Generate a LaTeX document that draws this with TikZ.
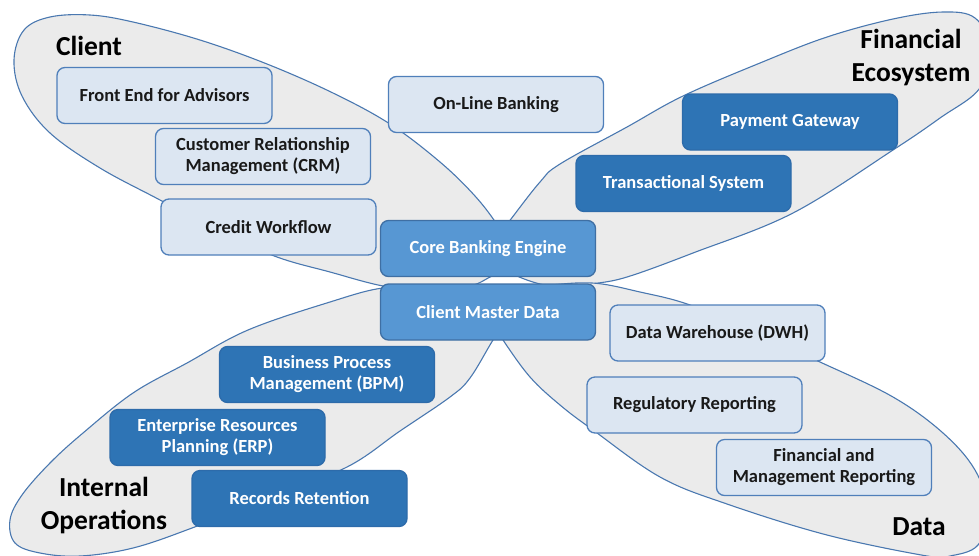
\documentclass[tikz,border=0pt]{standalone}
\usepackage{fontspec}
\setmainfont{Carlito}
\definecolor{petalfill}{HTML}{EBEBEB}
\definecolor{petalline}{HTML}{4A78B0}
\definecolor{lightfill}{HTML}{DCE6F2}
\definecolor{lightline}{HTML}{4F7FBA}
\definecolor{midfill}{HTML}{5797D3}
\definecolor{midline}{HTML}{3F6FA3}
\definecolor{darkfill}{HTML}{2E74B5}
\definecolor{darkline}{HTML}{2D6BAA}
\begin{document}
\begin{tikzpicture}[x=1pt,y=-1pt,
  petal/.style={fill=petalfill, draw=petalline, line width=1.1pt},
  box/.style={rounded corners=8pt, minimum width=215pt, minimum height=56pt,
    align=center, inner sep=2pt, line width=1.3pt,
    font=\fontsize{18.5}{21}\selectfont\bfseries},
  lightbox/.style={box, fill=lightfill, draw=lightline, text=black!90},
  midbox/.style={box, fill=midfill, draw=midline, text=white},
  darkbox/.style={box, fill=darkfill, draw=darkline, text=white},
  title/.style={font=\fontsize{27.5}{33}\selectfont\bfseries, align=center, text=black}]

\useasboundingbox (0,0) rectangle (979,555);
\clip (0,0) rectangle (979,555);

% Client petal (upper left)
\draw[petal] plot[smooth cycle, tension=0.6] coordinates {
  (14,60) (24,30) (50,17) (90,15) (133,22) (200,40) (267,64) (333,93)
  (390,124) (440,162) (475,196) (498,226) (512,252) (506,268) (490,277)
  (470,286) (430,291) (383,286) (330,272) (277,257) (220,232) (160,200)
  (100,168) (50,133) (22,96)};

% Financial ecosystem petal (upper right)
\draw[petal] plot[smooth cycle, tension=0.6] coordinates {
  (492,252) (500,234) (511,219) (540,182) (560,164) (627,127) (683,96)
  (760,63) (827,37) (893,19) (943,12) (975,18) (990,48) (980,88)
  (940,118) (893,150) (793,213) (693,253) (627,277) (592,284) (565,288)
  (540,284) (517,276) (500,266)};

% Internal operations petal (lower left)
\draw[petal] plot[smooth cycle, tension=0.6] coordinates {
  (515,302) (505,292) (470,289) (430,289) (383,288) (330,302) (248,330)
  (187,363) (133,393) (83,433) (50,463) (22,495) (10,520) (15,543)
  (40,553) (80,556) (133,548) (192,528) (270,497) (347,467) (400,431)
  (450,397) (470,378) (493,340) (508,318)};

% Data petal (lower right)
\draw[petal] plot[smooth cycle, tension=0.6] coordinates {
  (485,300) (500,290) (540,286) (592,283) (640,292) (690,305) (755,333)
  (820,362) (893,397) (943,433) (975,470) (988,510) (978,545) (950,556)
  (927,556) (827,535) (727,504) (660,477) (593,430) (560,405) (530,377)
  (503,340) (490,318)};

% Group titles
\node[title] (tclient) at (89,46) {Client};
\node[title] (tfin) at (911,58) {Financial\\Ecosystem};
\node[title] (tops) at (104,506) {Internal\\Operations};
\node[title] (tdata) at (919,527) {Data};

% Client systems
\node[lightbox] (fea) at (164.5,95.5) {Front End for Advisors};
\node[lightbox] (crm) at (263,156.5) {Customer Relationship\\Management (CRM)};
\node[lightbox] (cwf) at (268.5,227) {Credit Workflow};
\node[lightbox] (olb) at (496,104.5) {On-Line Banking};

% Core
\node[midbox] (cbe) at (488,248.5) {Core Banking Engine};
\node[midbox] (cmd) at (488,312) {Client Master Data};

% Financial ecosystem
\node[darkbox] (pgw) at (790,122) {Payment Gateway};
\node[darkbox] (trs) at (683.5,183.5) {Transactional System};

% Internal operations
\node[darkbox] (bpm) at (327,374.5) {Business Process\\Management (BPM)};
\node[darkbox] (erp) at (217.5,437.5) {Enterprise Resources\\Planning (ERP)};
\node[darkbox] (rrt) at (299.5,498.5) {Records Retention};

% Data
\node[lightbox] (dwh) at (717.5,333) {Data Warehouse (DWH)};
\node[lightbox] (reg) at (694.5,405) {Regulatory Reporting};
\node[lightbox] (fmr) at (824,467.5) {Financial and\\Management Reporting};
\end{tikzpicture}
\end{document}
